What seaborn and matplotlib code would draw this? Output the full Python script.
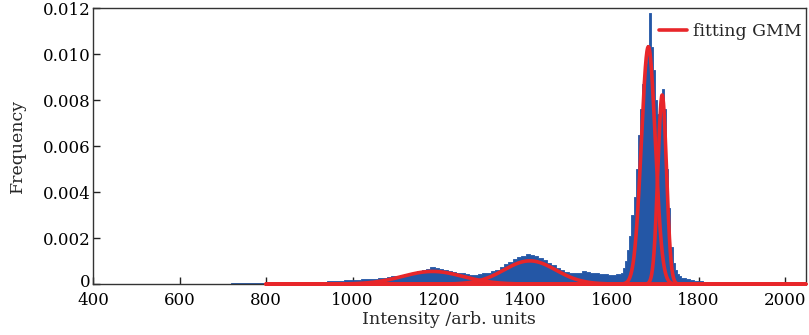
import numpy as np
import pandas as pd
import matplotlib
matplotlib.use("Agg")
import matplotlib.pyplot as plt
import matplotlib.transforms as mtransforms
import seaborn as sns

# ---- histogram data (bin left edges and heights, frequency x1e-3) ----
edges_lo = list(range(700, 1620, 10))
heights_lo = [
    0.01, 0.02, 0.03, 0.03, 0.03, 0.03, 0.03, 0.03, 0.03, 0.04,
    0.04, 0.04, 0.04, 0.05, 0.05, 0.05, 0.05, 0.06, 0.06, 0.07,
    0.08, 0.09, 0.10, 0.11, 0.12, 0.13, 0.14, 0.15, 0.16, 0.17,
    0.18, 0.19, 0.20, 0.21, 0.22, 0.24, 0.26, 0.28, 0.31, 0.34,
    0.37, 0.41, 0.45, 0.49, 0.53, 0.57, 0.61, 0.66, 0.76, 0.70,
    0.66, 0.62, 0.58, 0.54, 0.50, 0.46, 0.42, 0.40, 0.39, 0.42,
    0.46, 0.50, 0.55, 0.62, 0.74, 0.88, 0.98, 1.08, 1.17, 1.24,
    1.29, 1.28, 1.22, 1.14, 1.03, 0.93, 0.82, 0.72, 0.63, 0.54,
    0.47, 0.47, 0.50, 0.56, 0.53, 0.50, 0.47, 0.44, 0.42, 0.40,
    0.39, 0.42,
]
edges_mid = list(range(1620, 1780, 5))
heights_mid = [
    0.5, 0.7, 1.0, 1.5, 2.1, 3.0, 3.8, 5.0, 6.5, 7.6,
    8.7, 9.6, 10.4, 11.8, 10.3, 9.3, 8.0, 7.4, 8.0, 8.5,
    7.6, 5.0, 3.3, 1.6, 0.9, 0.6, 0.45, 0.35, 0.28, 0.25,
    0.22, 0.20,
]
edges_hi = list(range(1780, 1900, 10))
heights_hi = [0.17, 0.15, 0.12, 0.08, 0.06, 0.04, 0.03, 0.02, 0.01, 0.01, 0.0, 0.0]

# ---- GMM components (means, std devs, peak heights) ----
gmm_means = [1185, 1410, 1684, 1716]
gmm_sigmas = [70, 60, 16, 10]
gmm_peaks = [0.00055, 0.00101, 0.01032, 0.00822]

x_ticks = [400, 600, 800, 1000, 1200, 1400, 1600, 1800, 2000]
y_ticks = [0, 0.002, 0.004, 0.006, 0.008, 0.010, 0.012]
y_ticklabels = ["0", "0.002", "0.004", "0.006", "0.008", "0.010", "0.012"]

# ---- build table ----
lefts = edges_lo + edges_mid + edges_hi
heights = [h * 1e-3 for h in heights_lo + heights_mid + heights_hi]
bin_edges = lefts + [1900]
centers = [(bin_edges[i] + bin_edges[i + 1]) / 2 for i in range(len(lefts))]
df = pd.DataFrame({"intensity": centers, "freq": heights})

sns.set_theme(style="ticks")
plt.rcParams["font.family"] = ["DejaVu Serif"]
plt.rcParams["mathtext.fontset"] = "dejavuserif"

fig = plt.figure(figsize=(8.09, 3.35), dpi=100)
ax = fig.add_axes([0.115, 0.152, 0.881, 0.824])

sns.histplot(data=df, x="intensity", weights="freq", bins=bin_edges,
             element="step", fill=True, color="#2457a6", alpha=1.0,
             linewidth=0.6, edgecolor="#2457a6", ax=ax, zorder=1)

xs = np.linspace(800, 2048, 2000)
for i, (m, s, p) in enumerate(zip(gmm_means, gmm_sigmas, gmm_peaks)):
    ys = p * np.exp(-0.5 * ((xs - m) / s) ** 2)
    sns.lineplot(x=xs, y=ys, color="#e8262a", linewidth=2.6, ax=ax,
                 label="fitting GMM" if i == 0 else None,
                 clip_on=False, zorder=3, sort=False)

ax.set_xlim(400, 2048)
ax.set_ylim(0, 0.012)
ax.set_xticks(x_ticks)
ax.set_yticks(y_ticks)
ax.set_yticklabels(y_ticklabels)
ax.tick_params(direction="in", length=5, width=1, labelsize=12, colors="#222222",
               labelcolor="black")
ax.tick_params(axis="x", pad=6)
ax.tick_params(axis="y", pad=2)
ax.set_xlabel("Intensity /arb. units", fontsize=12.5, labelpad=1)
ax.set_ylabel("Frequency", fontsize=12.5, labelpad=12)
for sp in ax.spines.values():
    sp.set_visible(True)
    sp.set_color("#333333")
    sp.set_linewidth(1.0)
    sp.set_zorder(2.5)

# lift the "0" y tick label slightly so it sits above the "400" label
zero_lbl = ax.get_yticklabels()[0]
zero_lbl.set_transform(zero_lbl.get_transform() +
                       mtransforms.ScaledTranslation(0, 4 / 100, fig.dpi_scale_trans))

leg = ax.legend(loc="upper right", bbox_to_anchor=(1.004, 0.97), frameon=False,
                fontsize=12.5, handlelength=1.6, handletextpad=0.35,
                borderaxespad=0.2, borderpad=0.2)

fig.savefig("out.png", dpi=100)
